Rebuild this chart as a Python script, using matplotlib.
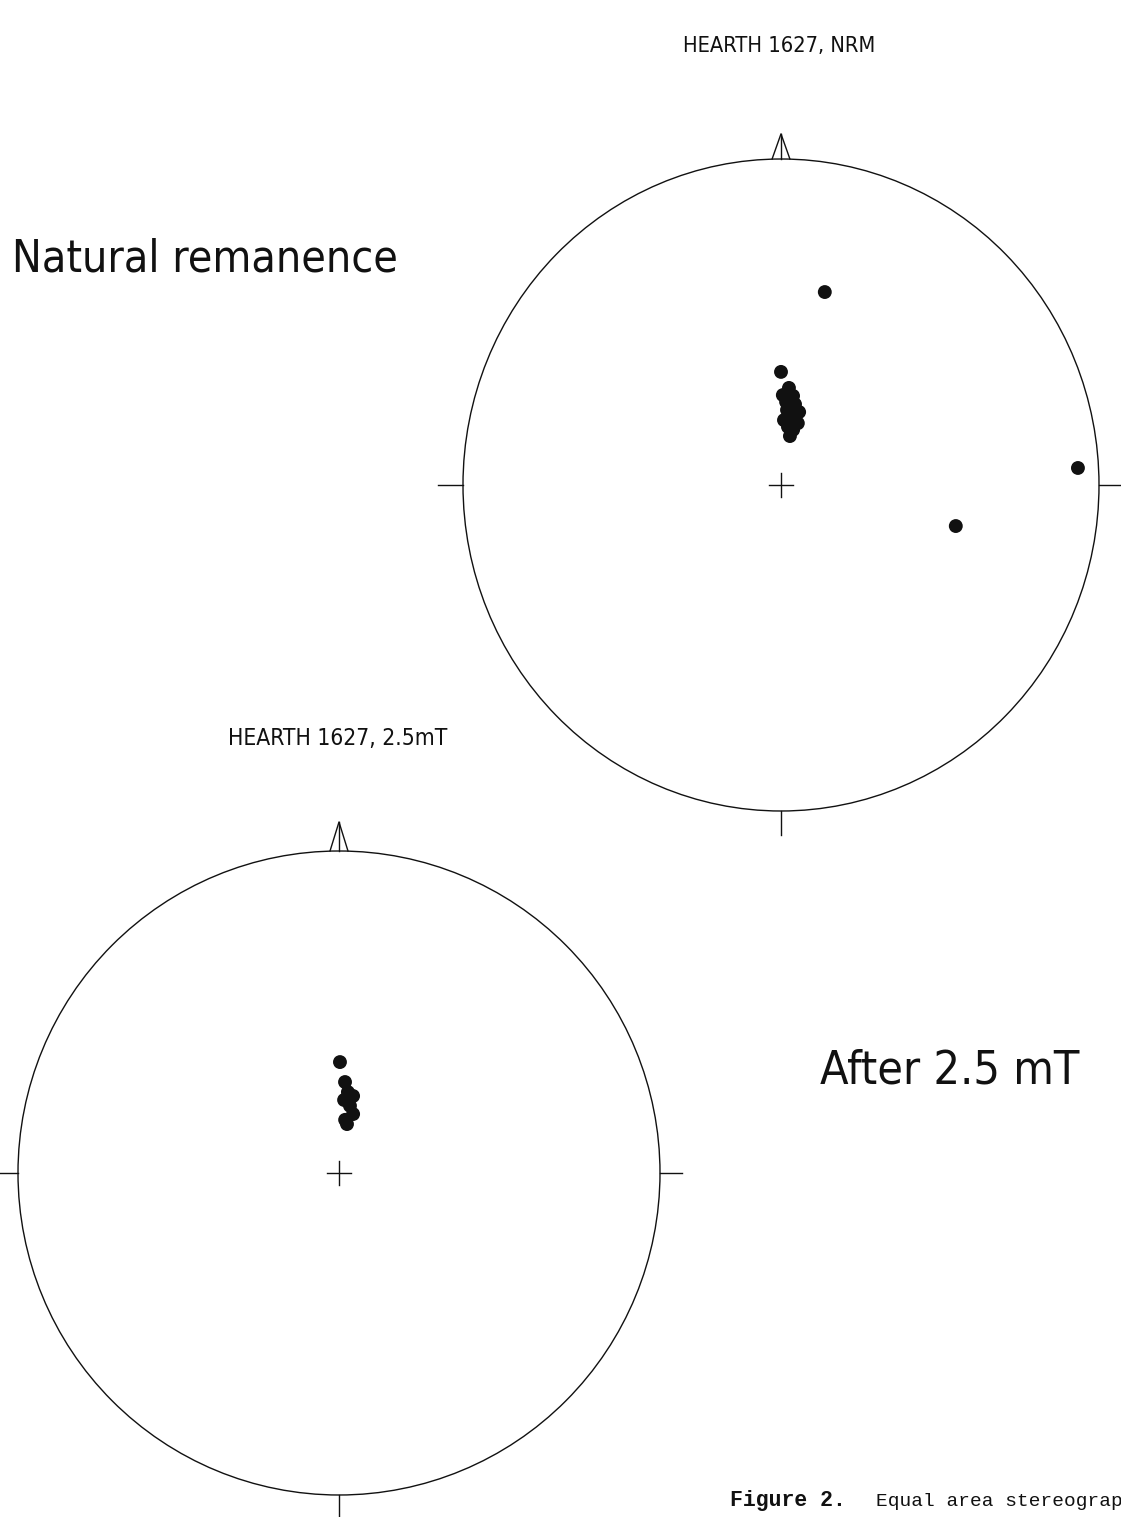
import numpy as np
import matplotlib
matplotlib.use("Agg")
import matplotlib.pyplot as plt
from matplotlib.patches import Ellipse

W, H = 1121, 1517

# NRM directions (declination, inclination in degrees)
nrm_dec = [13.1, 86.8, 102.9, 0.0, 4.8, 7.9, 3.6, 10.1, 4.7, 8.3, 2.7, 15.6, 7.0, 12.7,
           1.2, 14.3, 10.6]
nrm_inc = [39.1, 7.2, 43.0, 61.6, 65.6, 67.5, 69.2, 69.5, 71.2, 72.3, 73.8, 74.0, 75.4, 75.9,
           67.5, 71.2, 77.6]

# after 2.5 mT alternating field demagnetisation
af_dec = [0.5, 3.8, 6.3, 4.0, 9.3, 13.5, 6.6, 9.3, 10.4]
af_inc = [61.8, 66.9, 69.4, 71.5, 72.8, 74.7, 76.5, 77.5, 70.2]

titles = ["HEARTH 1627, NRM", "HEARTH 1627, 2.5mT"]
labels = ["Natural remanence", "After 2.5 mT"]

ink = "#111111"


def equal_area(dec, inc):
    dec = np.radians(np.asarray(dec))
    inc = np.asarray(inc)
    r = np.sqrt(2) * np.sin(np.radians(90 - inc) / 2)
    return r * np.sin(dec), r * np.cos(dec)


def net(fig, box, dec, inc, ext):
    # box = (left, top, right, bottom) of the primitive circle in pixels
    l, t, r, b = box
    ax = fig.add_axes([l / W, 1 - b / H, (r - l) / W, (b - t) / H])
    ax.set_xlim(-1, 1)
    ax.set_ylim(-1, 1)
    ax.axis("off")
    ax.add_patch(Ellipse((0, 0), 2, 2, fill=False, ec=ink, lw=1.0, clip_on=False))
    kw = dict(color=ink, lw=1.0, clip_on=False)
    left, right, bottom, apex = ext
    ax.plot([left, -1], [0, 0], **kw)
    ax.plot([1, right], [0, 0], **kw)
    ax.plot([0, 0], [-1, bottom], **kw)
    # north arrow
    ax.plot([-0.028, 0, 0.028], [1.0, apex, 1.0], **kw)
    ax.plot([0, 0], [1.0, apex], **kw)
    # centre cross
    ax.plot([-0.038, 0.038], [0, 0], **kw)
    ax.plot([0, 0], [-0.038, 0.038], **kw)
    x, y = equal_area(dec, inc)
    ax.scatter(x, y, s=100, color=ink, edgecolors="none", zorder=3, clip_on=False)
    return ax


fig = plt.figure(figsize=(W / 100, H / 100), dpi=100)
fig.patch.set_facecolor("white")

net(fig, (463, 159, 1099, 811), nrm_dec, nrm_inc, (-1.079, 1.07, -1.074, 1.077))
net(fig, (18, 851, 660, 1495), af_dec, af_inc, (-1.056, 1.07, -1.1, 1.09))


def ptext(x, y, s, size, ha="left"):
    fig.text(x / W, 1 - y / H, s, fontsize=size, ha=ha, va="center",
             color=ink, family="DejaVu Sans", fontstretch="condensed")


ptext(683, 46, titles[0], 15.7)
ptext(228, 739, titles[1], 16.4)
ptext(12, 259, labels[0], 32)
ptext(820, 1071, labels[1], 33.5)

fig.text(730 / W, 1 - 1506 / H, "Figure 2.", fontsize=15.5, family="Liberation Mono",
         weight="bold", color=ink, va="baseline")
fig.text(876 / W, 1 - 1506 / H, "Equal area stereograph", fontsize=14,
         family="Liberation Mono", color=ink, va="baseline")

fig.savefig("out.png", dpi=100, facecolor="white")
